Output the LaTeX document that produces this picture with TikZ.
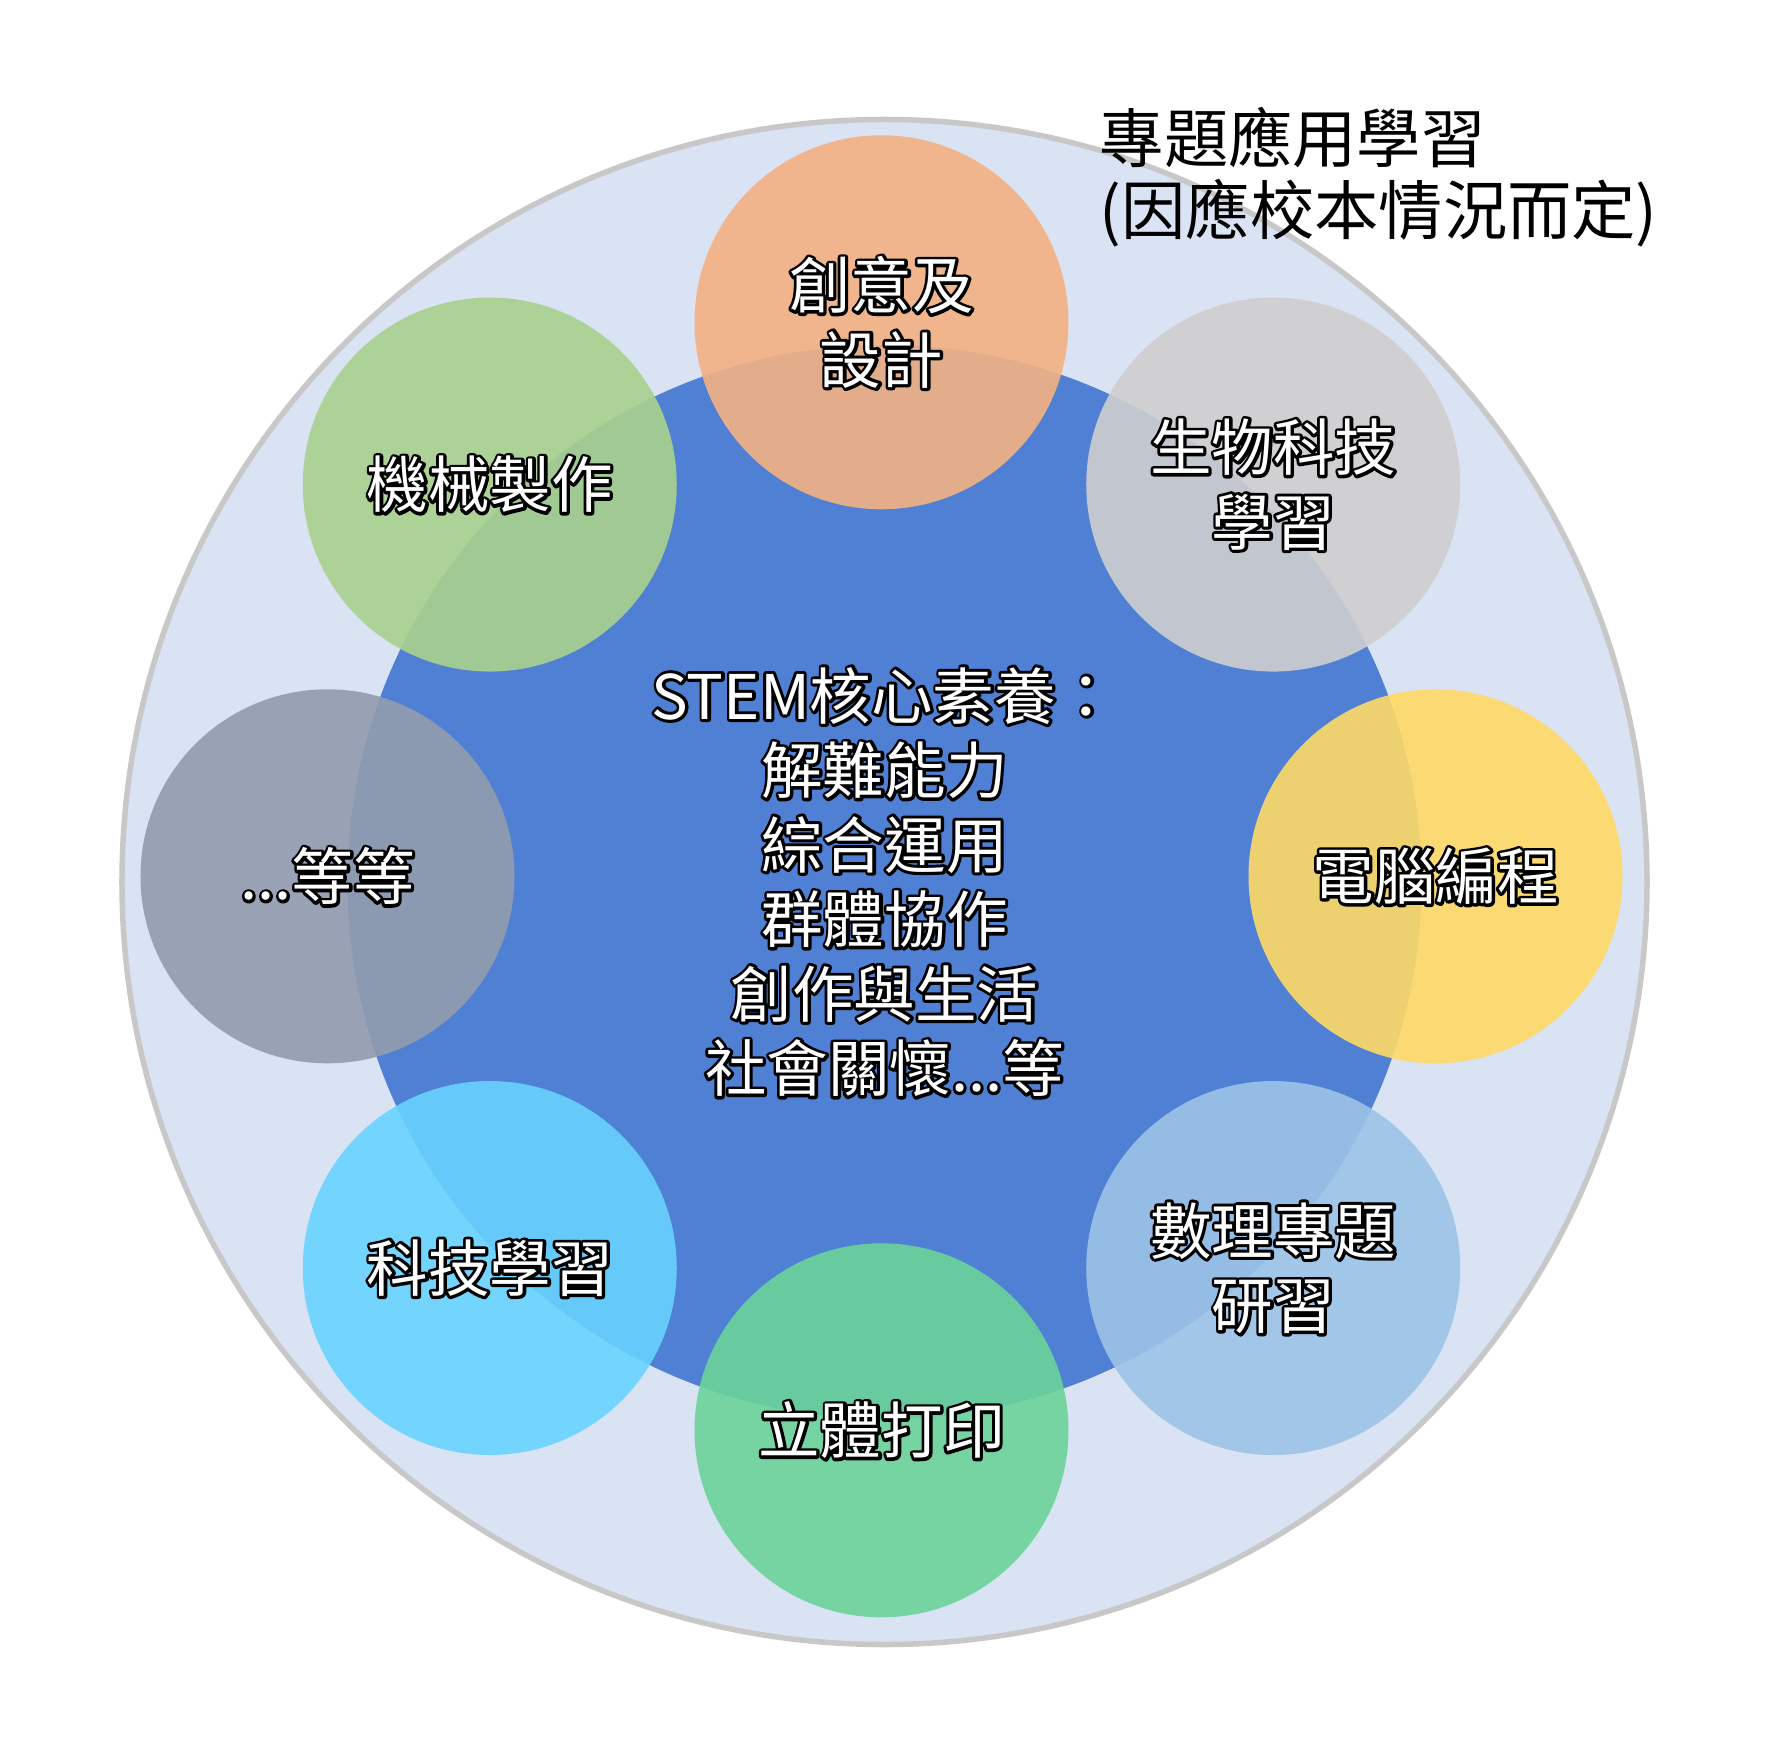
\documentclass[tikz,border=0pt]{standalone}
\usepackage{fontspec}
\setmainfont{Noto Sans CJK TC}
\usepackage{tikz}
\usetikzlibrary{positioning}
\tikzset{>=latex}
\usepackage{xcolor}
\definecolor{ringfill}{HTML}{DAE3F3}
\definecolor{ringline}{HTML}{C8C8C8}
\definecolor{coreblue}{HTML}{4F80D3}
\definecolor{satorange}{HTML}{F4B183}
\definecolor{satgrey}{HTML}{CFCECF}
\definecolor{satgold}{HTML}{FFD966}
\definecolor{satsky}{HTML}{9DC3E6}
\definecolor{satmint}{HTML}{6BD39A}
\definecolor{satcyan}{HTML}{68D3FF}
\definecolor{satslate}{HTML}{929CAE}
\definecolor{satgreen}{HTML}{A9D18E}
% white text with a black rim: stroked copy first, filled copy on top
\newcommand\outl[1]{\leavevmode\rlap{\special{pdf:literal direct 0 G 1 j 1 Tr 1.7 w}#1\special{pdf:literal direct 0 Tr 0 j 0.4 w}}#1}
\newcommand\labelfont{\fontsize{17.5}{21.2}\selectfont}
\newcommand\titlefont{\fontsize{18.3}{20.4}\selectfont}

\begin{document}
\begin{tikzpicture}[
	bubble/.style={circle, minimum size=3.74cm, inner sep=0pt,
		fill opacity=0.9, text opacity=1, text=white, align=center, font=\labelfont},
	ring/.style={circle, minimum size=15.25cm, fill=ringfill, draw=ringline, line width=0.055cm},
	core/.style={circle, minimum size=10.74cm, inner sep=0pt, fill=coreblue,
		text=white, align=center, font=\labelfont}
]
	\useasboundingbox (-8.845,-8.56) rectangle (8.885,8.82);
	\def\rSat{5.54}
	\coordinate (hub) at (-0.03,0.057);

	% outer ring and core
	\node[ring] (ring) at (0,0) {};
	\node[core] (core) at (0,0) {\outl{STEM核心素養：}\\\outl{解難能力}\\\outl{綜合運用}\\
		\outl{群體協作}\\\outl{創作與生活}\\\outl{社會關懷...等}};
	% title of the ring
	\node[anchor=west, align=left, font=\titlefont, inner sep=0pt] (title) at (2.145,7.045)
		{專題應用學習\\(因應校本情況而定)};
	% satellites, clockwise from the top
	\foreach \ang/\col/\txt [count=\i] in {
		90/satorange/{\outl{創意及}\\\outl{設計}},
		45/satgrey/{\outl{生物科技}\\\outl{學習}},
		0/satgold/{\outl{電腦編程}},
		-45/satsky/{\outl{數理專題}\\\outl{研習}},
		-90/satmint/{\outl{立體打印}},
		-135/satcyan/{\outl{科技學習}},
		180/satslate/{\outl{...等等}},
		135/satgreen/{\outl{機械製作}}}{
		\node[bubble, fill=\col] (sat\i) at ([shift={(\ang:\rSat)}]hub) {\txt};
	}
\end{tikzpicture}
\end{document}
